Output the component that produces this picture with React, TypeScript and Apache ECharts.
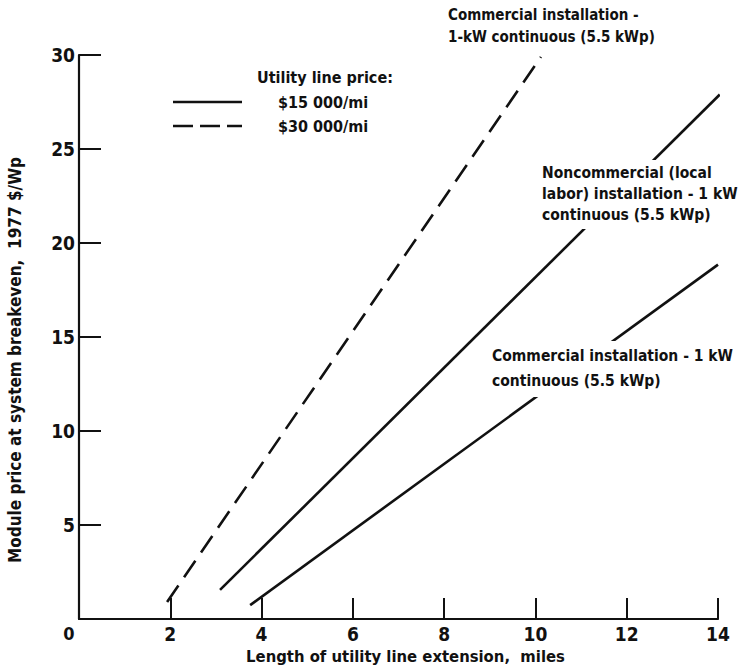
import React, { useEffect, useRef } from "react";
import * as echarts from "echarts";

// Data (x: miles, y: 1977 $/Wp)
const dashed30k: [number, number][] = [
  [1.93, 0.9],
  [10.12, 29.9],
];
const noncommercial15k: [number, number][] = [
  [3.09, 1.55],
  [14.04, 27.9],
];
const commercial15k: [number, number][] = [
  [3.75, 0.74],
  [14.0, 18.85],
];

const xTicks = [0, 2, 4, 6, 8, 10, 12, 14];
const yTicks = [0, 5, 10, 15, 20, 25, 30];

const FONT = '"Liberation Sans Narrow", "DejaVu Sans Condensed", "Liberation Sans", sans-serif';
const INK = "#111";

export default function App() {
  const ref = useRef<HTMLDivElement>(null);

  useEffect(() => {
    if (!ref.current) return;
    const chart = echarts.init(ref.current, undefined, { renderer: "svg" });

    const lineStyleBase = { color: INK, width: 2.6 };
    const txt = { fontFamily: FONT, fontWeight: "bold", fill: INK };

    chart.setOption({
      animation: false,
      backgroundColor: "#fff",
      textStyle: { fontFamily: FONT, fontWeight: "bold", color: INK },
      grid: { left: 79, top: 55, width: 639, height: 564 },
      xAxis: {
        type: "value",
        min: xTicks[0],
        max: xTicks[xTicks.length - 1],
        interval: 2,
        axisLine: { show: true, lineStyle: { color: INK, width: 2.2 } },
        axisTick: { show: true, inside: true, length: 21, lineStyle: { color: INK, width: 2 } },
        splitLine: { show: false },
        axisLabel: {
          margin: 5,
          fontSize: 19,
          fontFamily: FONT,
          fontWeight: "bold",
          color: INK,
          formatter: (v: number) => (v === 0 ? "{z|0}" : String(v)),
          rich: { z: { fontSize: 18, fontFamily: FONT, fontWeight: "bold", color: INK, padding: [0, 20, 0, 0] } },
        },
        name: "Length of utility line extension,  miles",
        nameLocation: "middle",
        nameGap: 25,
        nameTextStyle: { fontSize: 16.5, fontFamily: FONT, fontWeight: "bold", color: INK, padding: [0, 0, 0, 14] },
      },
      yAxis: {
        type: "value",
        min: yTicks[0],
        max: yTicks[yTicks.length - 1],
        interval: 5,
        axisLine: { show: true, lineStyle: { color: INK, width: 2.2 } },
        axisTick: { show: true, inside: true, length: 22, lineStyle: { color: INK, width: 2 } },
        splitLine: { show: false },
        axisLabel: {
          margin: 4,
          fontSize: 19,
          fontFamily: FONT,
          fontWeight: "bold",
          color: INK,
          formatter: (v: number) => (v === 0 ? "" : String(v)),
        },
      },
      series: [
        {
          type: "line",
          data: dashed30k,
          symbol: "none",
          lineStyle: { ...lineStyleBase, type: [20, 10] },
          z: 2,
        },
        {
          type: "line",
          data: noncommercial15k,
          symbol: "none",
          lineStyle: { ...lineStyleBase },
          z: 2,
        },
        {
          type: "line",
          data: commercial15k,
          symbol: "none",
          lineStyle: { ...lineStyleBase },
          z: 2,
        },
      ],
      graphic: [
        {
          type: "text",
          z: 100,
          x: 15,
          y: 360,
          rotation: Math.PI / 2,
          style: {
            ...txt,
            text: "Module price at system breakeven,  1977 $/Wp",
            fontSize: 17,
            align: "center",
            verticalAlign: "middle",
          },
        },
        {
          type: "text",
          z: 100,
          x: 257,
          y: 77,
          style: { ...txt, text: "Utility line price:", fontSize: 16, verticalAlign: "middle" },
        },
        {
          type: "line",
          z: 100,
          shape: { x1: 173, y1: 102, x2: 242, y2: 102 },
          style: { stroke: INK, lineWidth: 2.6 },
        },
        {
          type: "line",
          z: 100,
          shape: { x1: 173, y1: 126, x2: 242, y2: 126 },
          style: { stroke: INK, lineWidth: 2.6, lineDash: [20, 7] },
        },
        {
          type: "text",
          z: 100,
          x: 278,
          y: 102,
          style: { ...txt, text: "$15 000/mi", fontSize: 16, verticalAlign: "middle" },
        },
        {
          type: "text",
          z: 100,
          x: 278,
          y: 126,
          style: { ...txt, text: "$30 000/mi", fontSize: 16, verticalAlign: "middle" },
        },
        {
          type: "text",
          z: 100,
          x: 448,
          y: 4,
          style: {
            ...txt,
            text: "Commercial installation -\n1-kW continuous (5.5 kWp)",
            fontSize: 15,
            lineHeight: 22,
            verticalAlign: "top",
          },
        },
        {
          type: "text",
          z: 100,
          x: 540,
          y: 160,
          style: {
            ...txt,
            text: "Noncommercial (local\nlabor) installation - 1 kW\ncontinuous (5.5 kWp)",
            fontSize: 15.5,
            lineHeight: 21,
            verticalAlign: "top",
            backgroundColor: "#fff",
            padding: [2, 2, 4, 2],
          },
        },
        {
          type: "text",
          z: 100,
          x: 490,
          y: 341,
          style: {
            ...txt,
            text: "Commercial installation - 1 kW\ncontinuous (5.5 kWp)",
            fontSize: 15.5,
            lineHeight: 25,
            verticalAlign: "top",
            backgroundColor: "#fff",
            padding: [2, 2, 4, 2],
          },
        },
      ],
    });

    return () => chart.dispose();
  }, []);

  return (
    <div
      ref={ref}
      style={{ position: "fixed", left: 0, top: 0, width: 741, height: 671, background: "#fff" }}
    />
  );
}
